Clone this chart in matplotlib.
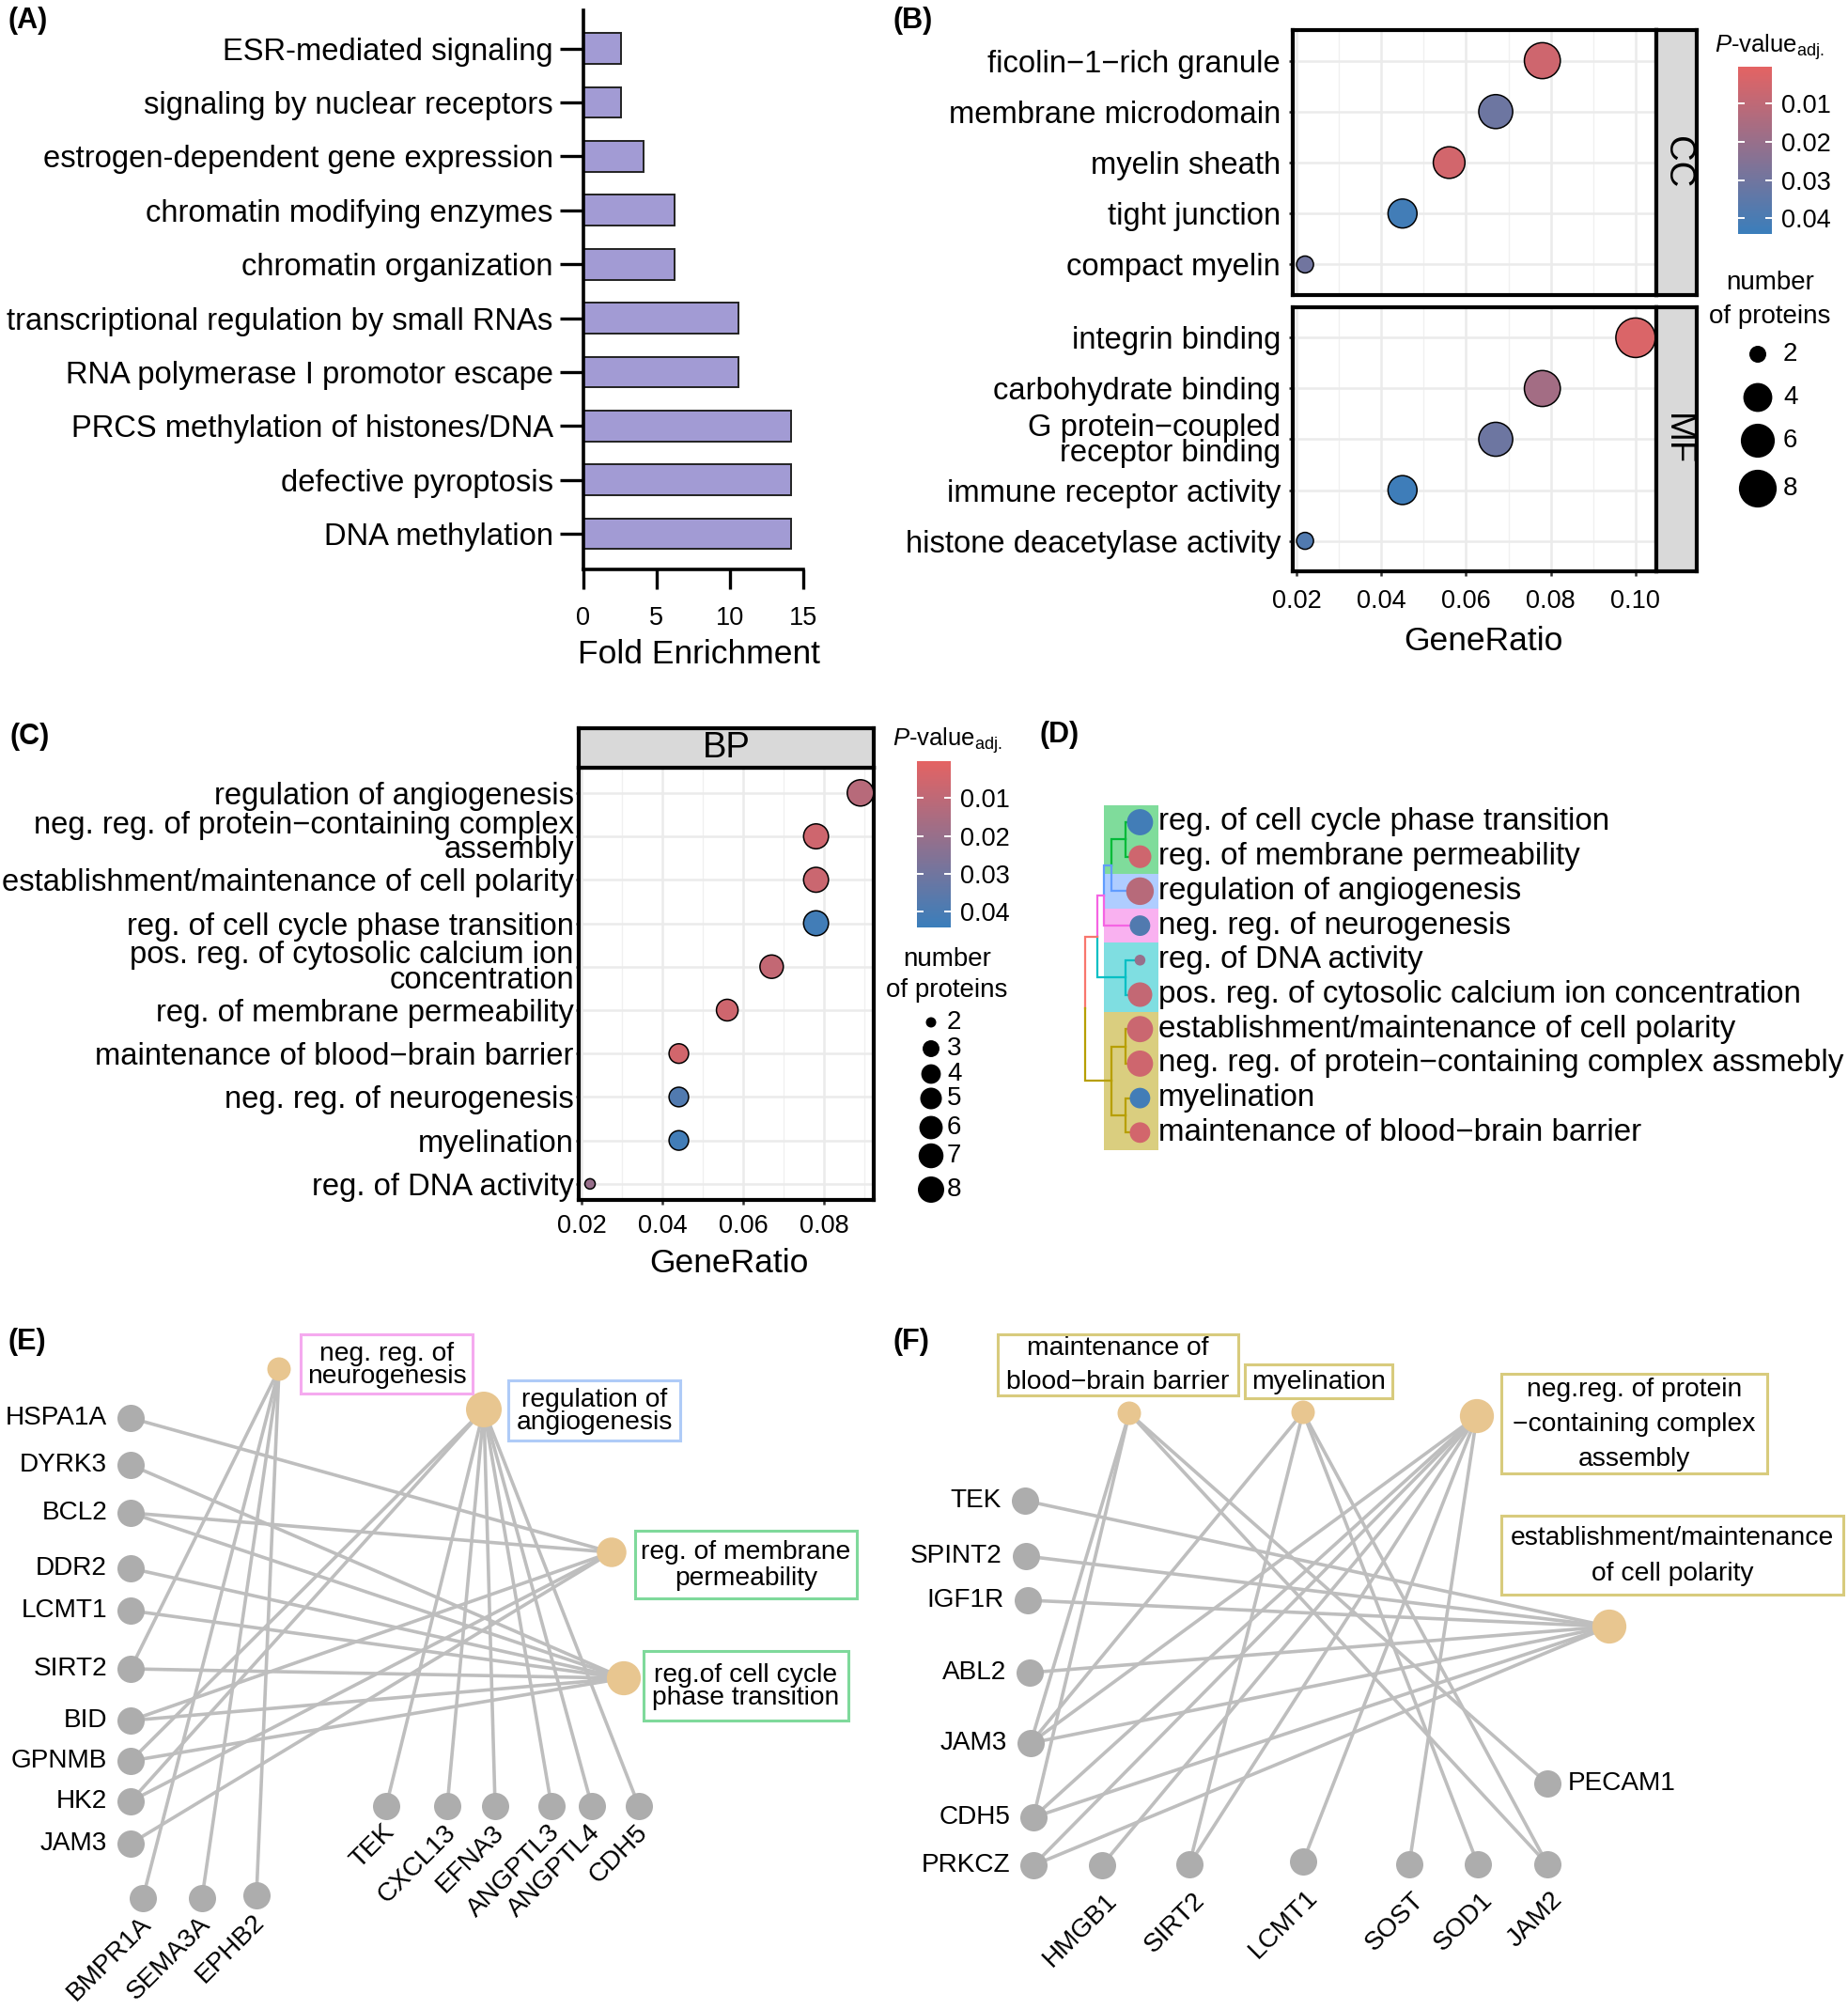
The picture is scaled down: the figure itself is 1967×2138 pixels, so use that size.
import numpy as np
import matplotlib
matplotlib.use("Agg")
import matplotlib.pyplot as plt
from matplotlib.colors import LinearSegmentedColormap, Normalize
from matplotlib.patches import Rectangle
from matplotlib.cm import ScalarMappable

plt.rcParams['font.family'] = ['Liberation Sans', 'DejaVu Sans']
plt.rcParams['mathtext.fontset'] = 'custom'
plt.rcParams['mathtext.rm'] = 'Liberation Sans'
plt.rcParams['mathtext.it'] = 'Liberation Sans:italic'

MINUS = "\u2212"

# ======================= DATA =======================
# (A) Reactome fold enrichment
a_terms = ["ESR-mediated signaling", "signaling by nuclear receptors",
           "estrogen-dependent gene expression", "chromatin modifying enzymes",
           "chromatin organization", "transcriptional regulation by small RNAs",
           "RNA polymerase I promotor escape", "PRCS methylation of histones/DNA",
           "defective pyroptosis", "DNA methylation"]
a_fold = [2.56, 2.56, 4.12, 6.24, 6.24, 10.6, 10.6, 14.2, 14.2, 14.2]
a_ticks = [0, 5, 10, 15]

# (B) GO CC / MF
cc_terms = ["ficolin" + MINUS + "1" + MINUS + "rich granule", "membrane microdomain",
            "myelin sheath", "tight junction", "compact myelin"]
cc_ratio = [0.078, 0.067, 0.056, 0.045, 0.022]
cc_padj = [0.006, 0.031, 0.005, 0.042, 0.030]
cc_count = [7, 6, 5, 4, 2]

mf_terms = ["integrin binding", "carbohydrate binding",
            "G protein" + MINUS + "coupled\nreceptor binding",
            "immune receptor activity", "histone deacetylase activity"]
mf_ratio = [0.100, 0.078, 0.067, 0.045, 0.022]
mf_padj = [0.003, 0.017, 0.031, 0.043, 0.038]
mf_count = [9, 7, 6, 4, 2]

b_xticks = [0.02, 0.04, 0.06, 0.08, 0.10]
b_xminor = [0.03, 0.05, 0.07, 0.09]
b_size_breaks = [2, 4, 6, 8]

# (C) GO BP
bp_terms = ["regulation of angiogenesis",
            "neg. reg. of protein" + MINUS + "containing complex\nassembly",
            "establishment/maintenance of cell polarity",
            "reg. of cell cycle phase transition",
            "pos. reg. of cytosolic calcium ion\nconcentration",
            "reg. of membrane permeability",
            "maintenance of blood" + MINUS + "brain barrier",
            "neg. reg. of neurogenesis", "myelination", "reg. of DNA activity"]
bp_ratio = [0.089, 0.078, 0.078, 0.078, 0.067, 0.056, 0.044, 0.044, 0.044, 0.022]
bp_padj = [0.012, 0.006, 0.007, 0.042, 0.009, 0.006, 0.005, 0.038, 0.042, 0.020]
bp_count = [8, 7, 7, 7, 6, 5, 4, 4, 4, 2]

c_xticks = [0.02, 0.04, 0.06, 0.08]
c_xminor = [0.03, 0.05, 0.07, 0.09]
c_size_breaks = [2, 3, 4, 5, 6, 7, 8]

pval_ticks = [0.01, 0.02, 0.03, 0.04]
pval_range = (0.0003, 0.0441)

# (D) tree of BP terms
d_terms = ["reg. of cell cycle phase transition", "reg. of membrane permeability",
           "regulation of angiogenesis", "neg. reg. of neurogenesis",
           "reg. of DNA activity", "pos. reg. of cytosolic calcium ion concentration",
           "establishment/maintenance of cell polarity",
           "neg. reg. of protein" + MINUS + "containing complex assmebly",
           "myelination", "maintenance of blood" + MINUS + "brain barrier"]
d_padj = [0.042, 0.006, 0.012, 0.038, 0.020, 0.009, 0.007, 0.006, 0.042, 0.005]
d_count = [7, 5, 8, 4, 2, 6, 7, 7, 4, 4]
d_group = [0, 0, 1, 2, 3, 3, 4, 4, 4, 4]
d_group_colors = ["#00BA38", "#619CFF", "#F564E3", "#00BFC4", "#B79F00"]
# merges: (child a, child b, height, branch colour); new node ids start at 10
d_merges = [(0, 1, 1.0, "#00BA38"), (4, 5, 1.0, "#00BFC4"),
            (6, 7, 1.0, "#B79F00"), (8, 9, 1.0, "#B79F00"),
            (10, 2, 2.03, "#619CFF"), (12, 13, 2.03, "#B79F00"),
            (14, 3, 2.58, "#F564E3"), (16, 11, 3.06, "#F8766D"),
            (17, 15, 3.87, "#F8766D")]

# (E) gene-concept network
e_terms = ["neg. reg. of\nneurogenesis", "regulation of\nangiogenesis",
           "reg. of membrane\npermeability", "reg.of cell cycle\nphase transition"]
e_term_count = [4, 8, 5, 7]
e_genes = ["HSPA1A", "DYRK3", "BCL2", "DDR2", "LCMT1", "SIRT2", "BID", "GPNMB",
           "HK2", "JAM3", "BMPR1A", "SEMA3A", "EPHB2", "TEK", "CXCL13", "EFNA3",
           "ANGPTL3", "ANGPTL4", "CDH5"]
e_links = [("SIRT2", 0), ("BMPR1A", 0), ("SEMA3A", 0), ("EPHB2", 0),
           ("GPNMB", 1), ("HK2", 1), ("TEK", 1), ("CXCL13", 1), ("EFNA3", 1),
           ("ANGPTL3", 1), ("ANGPTL4", 1), ("CDH5", 1),
           ("HSPA1A", 2), ("BCL2", 2), ("BID", 2), ("HK2", 2), ("JAM3", 2),
           ("DYRK3", 3), ("BCL2", 3), ("DDR2", 3), ("LCMT1", 3), ("SIRT2", 3),
           ("BID", 3), ("GPNMB", 3)]

# (F) gene-concept network
f_terms = ["maintenance of\nblood" + MINUS + "brain barrier", "myelination",
           "neg.reg. of protein\n" + MINUS + "containing complex\nassembly",
           "establishment/maintenance\nof cell polarity"]
f_term_count = [4, 4, 7, 7]
f_genes = ["TEK", "SPINT2", "IGF1R", "ABL2", "JAM3", "CDH5", "PRKCZ", "HMGB1",
           "SIRT2", "LCMT1", "SOST", "SOD1", "JAM2", "PECAM1"]
f_links = [("JAM3", 0), ("CDH5", 0), ("PECAM1", 0), ("JAM2", 0),
           ("JAM3", 1), ("SIRT2", 1), ("SOD1", 1), ("JAM2", 1),
           ("JAM3", 2), ("CDH5", 2), ("PRKCZ", 2), ("HMGB1", 2), ("SIRT2", 2),
           ("LCMT1", 2), ("SOST", 2),
           ("TEK", 3), ("SPINT2", 3), ("IGF1R", 3), ("ABL2", 3), ("JAM3", 3),
           ("CDH5", 3), ("PRKCZ", 3)]

# ======================= LAYOUT (pixels) =======================
W, H, DPI = 1967, 2138, 100

e_gene_xy = {"HSPA1A": (139, 1509), "DYRK3": (139, 1559), "BCL2": (139, 1610),
             "DDR2": (139, 1669), "LCMT1": (139, 1714), "SIRT2": (139, 1776),
             "BID": (139, 1831), "GPNMB": (139, 1874), "HK2": (139, 1917),
             "JAM3": (139, 1962), "BMPR1A": (152, 2020), "SEMA3A": (215, 2020),
             "EPHB2": (273, 2017), "TEK": (411, 1922), "CXCL13": (476, 1922),
             "EFNA3": (527, 1922), "ANGPTL3": (587, 1922), "ANGPTL4": (630, 1922),
             "CDH5": (680, 1922)}
e_gene_side = {g: ("left" if i < 10 else "bottom") for i, g in enumerate(e_genes)}
e_term_xy = [(297, 1457), (515, 1500), (651, 1652), (664, 1786)]
e_box = [(320, 1420, 503, 1483), (541, 1469, 724, 1533),
         (676, 1629, 912, 1701), (685, 1757, 903, 1831)]
e_box_col = ["#F5AAEF", "#AFCBF7", "#7FD99B", "#7FD99B"]
e_text_ls = [0.9, 0.9, 1.08, 0.95]

f_gene_xy = {"TEK": (1091, 1597), "SPINT2": (1092, 1656), "IGF1R": (1094, 1703),
             "ABL2": (1096, 1780), "JAM3": (1097, 1855), "CDH5": (1100, 1934),
             "PRKCZ": (1100, 1985), "HMGB1": (1173, 1985), "SIRT2": (1266, 1984),
             "LCMT1": (1387, 1981), "SOST": (1500, 1984), "SOD1": (1573, 1984),
             "JAM2": (1647, 1984), "PECAM1": (1647, 1898)}
f_gene_side = {g: ("left" if i < 7 else "bottom") for i, g in enumerate(f_genes)}
f_gene_side["PECAM1"] = "right"
f_term_xy = [(1202, 1504), (1387, 1503), (1572, 1507), (1713, 1731)]
f_box = [(1062, 1420, 1318, 1485), (1325, 1452, 1482, 1488),
         (1598, 1462, 1881, 1568), (1598, 1613, 1962, 1697)]
f_box_col = ["#D8CB7D"] * 4
f_text_ls = [1.5, 1.0, 1.55, 1.6]

cmap = LinearSegmentedColormap.from_list("padj", ["#E46363", "#3A7EBB"])
norm = Normalize(*pval_range)

fig = plt.figure(figsize=(W / DPI, H / DPI), dpi=DPI)


def ax_px(x0, y0, x1, y1, **kw):
    return fig.add_axes([x0 / W, 1 - y1 / H, (x1 - x0) / W, (y1 - y0) / H], **kw)


def d2s(d):
    return (d * 72.0 / DPI) ** 2


def size_b(n):
    return 18 + 24 * np.sqrt((n - 2) / 7.0)


def size_c(n):
    return 11 + 17 * np.sqrt((n - 2) / 6.0)


def size_term(n):
    return 25 + 13 * np.sqrt((n - 4) / 4.0)


# overlay axis in pixel coordinates
ov = fig.add_axes([0, 0, 1, 1])
ov.set_xlim(0, W)
ov.set_ylim(H, 0)
ov.axis("off")
ov.set_zorder(5)

FS_LAB = 23.6
FS_TICK = 19.5
FS_TITLE = 25.5
FS_GENE = 20.2

# ======================= (A) =======================
axA = ax_px(620.6, 11.5, 855, 606)
ya = np.arange(len(a_terms))
axA.barh(ya, a_fold, height=0.57, color="#A29BD4", edgecolor="#222222", linewidth=1.4)
axA.set_ylim(len(a_terms) - 1 + 0.66, -0.70)
axA.set_xlim(0, 15)
axA.set_yticks(ya)
axA.set_yticklabels(a_terms, fontsize=FS_LAB)
axA.set_xticks(a_ticks)
axA.set_xticklabels([str(t) for t in a_ticks], fontsize=FS_TICK)
for s in ["top", "right"]:
    axA.spines[s].set_visible(False)
for s in ["left", "bottom"]:
    axA.spines[s].set_linewidth(2.6)
axA.tick_params(axis="y", length=18, width=2.4, pad=5)
axA.tick_params(axis="x", length=15, width=2.4, pad=13)
ov.text(744, 697, "Fold Enrichment", ha="center", va="center", fontsize=FS_TITLE)


# ======================= dot plot helper =======================
def dotpanel(ax, terms, ratio, padj, count, sfun, xlim, xticks, xminor, ylim_pad,
             show_x=True, ypad=6, ylen=3.2, ls=0.85, xpad=10):
    n = len(terms)
    y = np.arange(n)
    ax.scatter(ratio, y, s=[d2s(sfun(c)) for c in count], c=padj, cmap=cmap,
               norm=norm, edgecolor="black", linewidth=1.1, zorder=3)
    ax.set_ylim(n - 1 + ylim_pad[1], -ylim_pad[0])
    ax.set_xlim(*xlim)
    ax.set_yticks(y)
    ax.set_yticklabels(terms, fontsize=FS_LAB, linespacing=ls)
    ax.set_xticks(xticks)
    ax.set_xticks(xminor, minor=True)
    ax.grid(True, which="major", color="#EBEBEB", lw=1.8)
    ax.grid(True, which="minor", axis="x", color="#F0F0F0", lw=1.0)
    ax.set_axisbelow(True)
    for s in ax.spines.values():
        s.set_linewidth(3.0)
    ax.tick_params(axis="y", length=ylen, width=1.8, color="#333333", pad=ypad)
    ax.tick_params(which="minor", length=0)
    if show_x:
        ax.set_xticklabels(["%.2f" % t for t in xticks], fontsize=FS_TICK)
        ax.tick_params(axis="x", length=3.5, width=1.8, color="#333333", pad=xpad)
    else:
        ax.tick_params(axis="x", length=0, labelbottom=False)


def strip(box, label, rot):
    sa = ax_px(*box)
    sa.set_facecolor("#D9D9D9")
    sa.set_xticks([])
    sa.set_yticks([])
    for s in sa.spines.values():
        s.set_linewidth(3.0)
    sa.text(0.5, 0.5, label, rotation=rot, ha="center", va="center",
            fontsize=27.5, transform=sa.transAxes)


def pcolorbar(box, title_xy):
    cax = ax_px(*box)
    cb = fig.colorbar(ScalarMappable(norm=norm, cmap=cmap), cax=cax)
    cb.outline.set_visible(False)
    cax.invert_yaxis()
    cb.set_ticks(pval_ticks)
    cb.set_ticklabels(["%.2f" % t for t in pval_ticks])
    cax.tick_params(direction="in", length=5, width=1.4, colors="white",
                    left=True, right=True, labelsize=FS_TICK, pad=7)
    for t in cax.get_yticklabels():
        t.set_color("black")
    ov.text(title_xy[0], title_xy[1], r"$\mathit{P}$-value$_{\mathrm{adj.}}$",
            ha="left", va="center", fontsize=18.5)


def size_legend(title_xy, xs, ys, breaks, sfun, lab_x):
    ov.text(title_xy[0], title_xy[1][0], "number", ha="center", va="center", fontsize=20)
    ov.text(title_xy[0], title_xy[1][1], "of proteins", ha="center", va="center", fontsize=20)
    ov.scatter([xs] * len(breaks), ys, s=[d2s(sfun(b)) for b in breaks], color="black",
               linewidth=0)
    for yy, b in zip(ys, breaks):
        ov.text(lab_x, yy, str(b), ha="left", va="center", fontsize=FS_TICK + 0.5)


# ======================= (B) =======================
b_xlim = (0.0191, 0.1049)
axCC = ax_px(1376, 32, 1763, 314)
dotpanel(axCC, cc_terms, cc_ratio, cc_padj, cc_count, size_b, b_xlim, b_xticks,
         b_xminor, (0.6, 0.6), show_x=False)
axMF = ax_px(1376, 327, 1763, 608)
dotpanel(axMF, mf_terms, mf_ratio, mf_padj, mf_count, size_b, b_xlim, b_xticks,
         b_xminor, (0.6, 0.6), show_x=True, ls=0.85, xpad=10)
strip((1763, 32, 1806, 314), "CC", -90)
strip((1763, 327, 1806, 608), "MF", -90)
ov.text(1579, 683, "GeneRatio", ha="center", va="center", fontsize=FS_TITLE)
pcolorbar((1850, 71, 1886, 249), (1825, 50))
size_legend((1884, (301, 337)), 1871, [377, 423, 469, 520], b_size_breaks, size_b, 1898)

# ======================= (C) =======================
axBP = ax_px(616, 817, 930, 1277)
dotpanel(axBP, bp_terms, bp_ratio, bp_padj, bp_count, size_c, (0.0192, 0.0923),
         c_xticks, c_xminor, (0.58, 0.37), show_x=True, ypad=1.5, ylen=2.2, ls=0.82,
         xpad=7)
strip((616, 775, 930, 817), "BP", 0)
ov.text(776, 1345, "GeneRatio", ha="center", va="center", fontsize=FS_TITLE)
pcolorbar((976, 810, 1012, 987), (950, 788))
size_legend((1008, (1021, 1054)), 991, [1088, 1116, 1143, 1169, 1200, 1230, 1266],
            c_size_breaks, size_c, 1008)

# ======================= (D) =======================
d_y0, d_dy = 875, 36.7
d_xleaf, d_hscale = 1213.4, 15.0
box_x0, box_x1 = 1174.7, 1232.7
node_y = [d_y0 + d_dy * i for i in range(len(d_terms))]
node_x = [d_xleaf] * len(d_terms)
node_col = [d_group_colors[g] for g in d_group]
for a, b, h, col in d_merges:
    xm = d_xleaf - h * d_hscale
    ym = 0.5 * (node_y[a] + node_y[b])
    for c in (a, b):
        ov.plot([xm, xm, node_x[c]], [ym, node_y[c], node_y[c]], color=node_col[c],
                lw=1.6, zorder=2, solid_joinstyle="miter")
    node_x.append(xm)
    node_y.append(ym)
    node_col.append(col)
for gi, gc in enumerate(d_group_colors):
    rows = [i for i, g in enumerate(d_group) if g == gi]
    top = d_y0 + d_dy * (min(rows) - 0.5)
    bot = d_y0 + d_dy * (max(rows) + 0.5)
    ov.add_patch(Rectangle((box_x0, top), box_x1 - box_x0, bot - top, facecolor=gc,
                           alpha=0.5, edgecolor="none", zorder=1))
ov.scatter([d_xleaf] * len(d_terms), node_y[:len(d_terms)],
           s=[d2s(size_c(c) * 1.05) for c in d_count], c=d_padj, cmap=cmap, norm=norm,
           linewidth=0, zorder=3)
for i, t in enumerate(d_terms):
    ov.text(box_x1, node_y[i], t, ha="left", va="center", fontsize=FS_LAB + 0.3, zorder=4)


# ======================= networks =======================
EDGE_C, GENE_C, TERM_C = "#BEBEBE", "#ADADAD", "#E8C690"


def network(genes, terms, tcount, links, gxy, gside, txy, boxes, bcols, tls, boff):
    for g, t in links:
        ov.plot([gxy[g][0], txy[t][0]], [gxy[g][1], txy[t][1]], color=EDGE_C, lw=2.6,
                zorder=1, solid_capstyle="round")
    ov.scatter([gxy[g][0] for g in genes], [gxy[g][1] for g in genes], s=d2s(29),
               color=GENE_C, linewidth=0, zorder=2)
    ov.scatter([p[0] for p in txy], [p[1] for p in txy],
               s=[d2s(size_term(n)) for n in tcount], color=TERM_C, linewidth=0, zorder=2)
    for g in genes:
        x, y = gxy[g]
        if gside[g] == "left":
            ov.text(x - 25, y, g, ha="right", va="center", fontsize=FS_GENE)
        elif gside[g] == "right":
            ov.text(x + 22, y, g, ha="left", va="center", fontsize=FS_GENE)
        else:
            ov.text(x + boff[0], y + boff[1], g, ha="right", va="center", rotation=45,
                    rotation_mode="anchor", fontsize=FS_GENE)
    for t, (x0, y0, x1, y1), bc, ls in zip(terms, boxes, bcols, tls):
        ov.add_patch(Rectangle((x0, y0), x1 - x0, y1 - y0, facecolor="white",
                               edgecolor=bc, lw=2.2, zorder=3))
        ov.text(0.5 * (x0 + x1), 0.5 * (y0 + y1) + 1, t, ha="center", va="center",
                fontsize=20.3, linespacing=ls, zorder=4)


network(e_genes, e_terms, e_term_count, e_links, e_gene_xy, e_gene_side, e_term_xy,
        e_box, e_box_col, e_text_ls, (5, 24))
network(f_genes, f_terms, f_term_count, f_links, f_gene_xy, f_gene_side, f_term_xy,
        f_box, f_box_col, f_text_ls, (12, 34))

# ======================= panel letters =======================
for lab, (x, y) in zip(["(A)", "(B)", "(C)", "(D)", "(E)", "(F)"],
                       [(8, 22), (950, 22), (10, 784), (1106, 782), (8, 1428), (950, 1428)]):
    ov.text(x, y, lab, ha="left", va="center", fontsize=22, fontweight="bold")

fig.savefig("out.png", dpi=DPI)
